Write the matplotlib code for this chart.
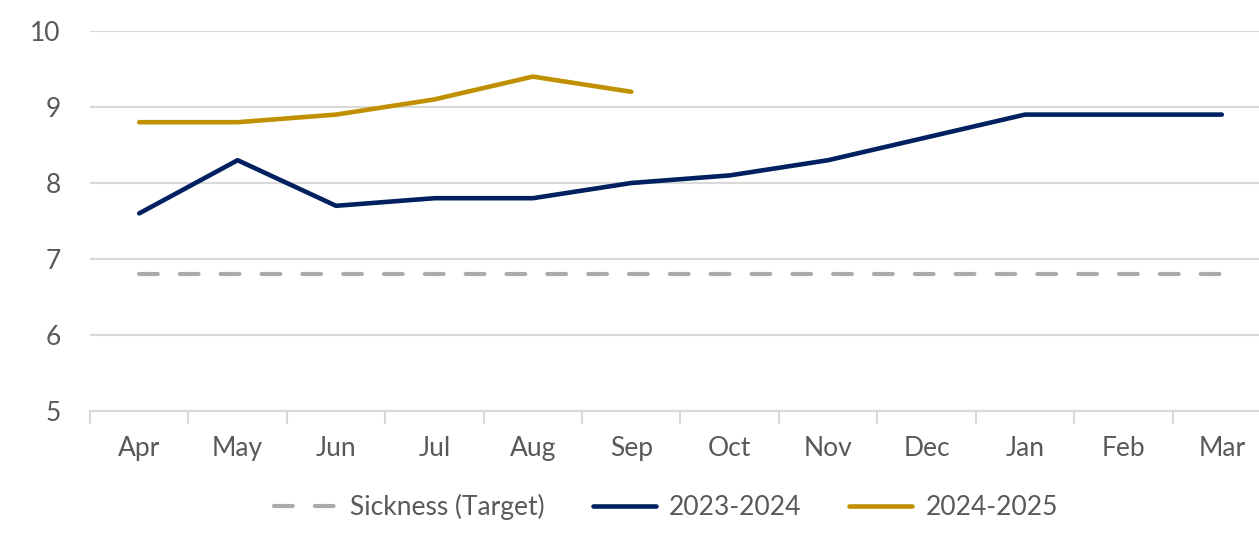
import matplotlib
matplotlib.use("Agg")
import matplotlib.pyplot as plt

months = ["Apr", "May", "Jun", "Jul", "Aug", "Sep", "Oct", "Nov", "Dec", "Jan", "Feb", "Mar"]
target = [6.8] * 12
y2023_24 = [7.6, 8.3, 7.7, 7.8, 7.8, 8.0, 8.1, 8.3, 8.6, 8.9, 8.9, 8.9]
y2024_25 = [8.8, 8.8, 8.9, 9.1, 9.4, 9.2]

plt.rcParams['font.family'] = ['Lato', 'DejaVu Sans']
txt = '#595959'
grid = '#d9d9d9'

fig = plt.figure(figsize=(12.59, 5.33), dpi=100)
ax = fig.add_axes([90/1259, 122/533, 1181/1259, 380/533])

x = list(range(len(months)))
ax.plot(x, target, color='#aeaaaa', lw=3, dashes=(4.5, 5.3),
        dash_capstyle='round', label='Sickness (Target)')
ax.plot(x, y2023_24, color='#002060', lw=3.3, solid_capstyle='round',
        label='2023-2024')
ax.plot(x[:len(y2024_25)], y2024_25, color='#bf9000', lw=3.3,
        solid_capstyle='round', label='2024-2025')

ax.set_xlim(-0.5, 11.5)
ax.set_ylim(5, 10)
ax.set_yticks(range(5, 11))
ax.grid(axis='y', color=grid, lw=1.5)
ax.set_axisbelow(True)

# month labels centred, tick marks on category boundaries
ax.set_xticks(x)
ax.set_xticklabels(months)
ax.set_xticks([i - 0.5 for i in range(13)], minor=True)
ax.tick_params(axis='x', which='major', length=0, pad=18, labelsize=19, labelcolor=txt)
ax.tick_params(axis='x', which='minor', length=9, width=1.5, color=grid, direction='out')
ax.tick_params(axis='y', length=0, pad=21, labelsize=19, labelcolor=txt)

for s in ['top', 'right', 'left']:
    ax.spines[s].set_visible(False)
ax.spines['bottom'].set_color(grid)
ax.spines['bottom'].set_linewidth(1.5)

fig.legend(loc='center', bbox_to_anchor=(666/1259, 1 - 507/533), ncol=3,
           frameon=False, fontsize=19, labelcolor=txt, handlelength=2.4,
           handletextpad=0.5, columnspacing=1.8)

fig.savefig('out.png', dpi=100)
